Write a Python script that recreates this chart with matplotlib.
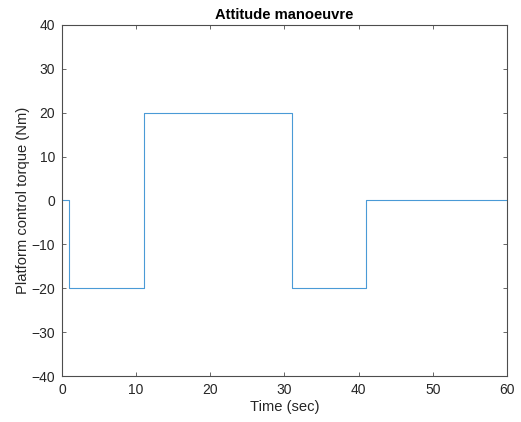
import numpy as np
import matplotlib.pyplot as plt

plt.rcParams['font.family'] = ['Liberation Sans', 'DejaVu Sans']

# step torque profile: switch times and levels
switch_times = [0, 1, 11, 31, 41, 60]
torque_levels = [0, -20, 20, -20, 0, 0]

x_ticks = [0, 10, 20, 30, 40, 50, 60]
y_ticks = [-40, -30, -20, -10, 0, 10, 20, 30, 40]

fig = plt.figure(figsize=(5.21, 4.22), dpi=100)
ax = fig.add_axes([0.119, 0.109, 0.854, 0.832])

ax.step(switch_times, torque_levels, where='post', color='#4a9ad6', linewidth=0.8)

ax.set_xlim(0, 60)
ax.set_ylim(-40, 40)
ax.set_xticks(x_ticks)
ax.set_yticks(y_ticks)
ax.tick_params(direction='in', top=True, right=True, length=3, width=0.6,
               colors='#4d4d4d', labelcolor='#262626', labelsize=10, pad=5)
for spine in ax.spines.values():
    spine.set_color('#4d4d4d')
    spine.set_linewidth(0.8)

ax.set_xlabel('Time (sec)', fontsize=10.6, color='#262626', labelpad=2)
ax.set_ylabel('Platform control torque (Nm)', fontsize=10.6, color='#262626', labelpad=1)
ax.set_title('Attitude manoeuvre', fontsize=10.6, fontweight='bold', pad=4)

fig.savefig('out.png', dpi=100)
